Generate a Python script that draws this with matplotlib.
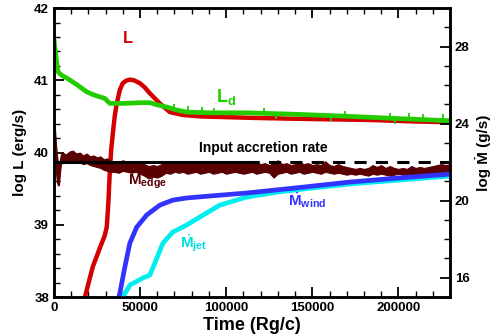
import matplotlib
matplotlib.use("Agg")
from matplotlib import pyplot as plt
from matplotlib.ticker import MultipleLocator

plt.rcParams['font.family'] = ['Liberation Sans', 'DejaVu Sans']
plt.rcParams['font.weight'] = 'bold'
plt.rcParams['mathtext.fontset'] = 'custom'
plt.rcParams['mathtext.rm'] = 'Liberation Sans:bold'
plt.rcParams['mathtext.bf'] = 'Liberation Sans:bold'
plt.rcParams['mathtext.it'] = 'Liberation Sans:bold'

# luminosity of the disc (log L, erg/s)
t_ld = [0, 600, 1700, 2300, 4500, 7500, 13300, 19100, 23000, 26700, 29500, 32500, 40000,
        50000, 55700, 60000, 65500, 71000, 77100, 90000, 112000, 140000, 172000, 200000, 230000]
ld = [41.58, 41.45, 41.24, 41.12, 41.07, 41.03, 40.94, 40.84, 40.80, 40.77, 40.75, 40.68, 40.68,
      40.69, 40.69, 40.66, 40.63, 40.59, 40.56, 40.55, 40.55, 40.53, 40.50, 40.47, 40.44]
# small spikes on L_d (base on the curve, tip)
t_spk = [70000, 78000, 86000, 93000, 122000, 129000, 161000, 169000, 195000, 198000, 206000, 214000, 226000]
spk_base = [40.6, 40.56, 40.55, 40.55, 40.54, 40.54, 40.51, 40.5, 40.47, 40.47, 40.46, 40.45, 40.44]
spk_tip = [40.67, 40.64, 40.63, 40.62, 40.62, 40.47, 40.43, 40.58, 40.55, 40.40, 40.55, 40.54, 40.53]

# total luminosity
t_l = [15000, 18000, 22600, 26700, 29500, 30700, 31600, 32500, 33300, 34200, 35300, 36500,
       38300, 40000, 42000, 44100, 46500, 49900, 52800, 55700, 61500, 67300, 74800, 85000,
       100000, 115000, 135000, 160000, 185000, 210000, 230000]
l_tot = [37.6, 38.0, 38.42, 38.68, 38.85, 38.97, 39.3, 39.75, 40.05, 40.26, 40.5, 40.68,
         40.87, 40.96, 40.995, 41.01, 41.0, 40.96, 40.9, 40.82, 40.68, 40.56, 40.52, 40.5,
         40.49, 40.48, 40.47, 40.46, 40.45, 40.43, 40.42]

# wind and jet mass loss rates (log Mdot, g/s)
t_wind = [36500, 38300, 41200, 44100, 48100, 53900, 61500, 69000, 77000, 90000, 112000,
          140000, 172000, 200000, 230000]
m_wind = [14.58, 15.21, 16.56, 17.8, 18.63, 19.26, 19.77, 20.03, 20.14, 20.24, 20.4,
          20.66, 20.97, 21.18, 21.38]
t_jet = [39500, 40000, 44100, 51700, 55700, 58600, 63300, 69000, 77100, 84700, 96300,
         106000, 112000, 130000, 150000, 172000, 200000, 230000]
m_jet = [14.84, 15.0, 15.62, 15.99, 16.14, 16.76, 17.8, 18.37, 18.74, 19.15, 19.77,
         20.03, 20.19, 20.45, 20.66, 20.87, 21.07, 21.28]

# accretion rate at the outer edge: noisy band, upper and lower edge
t_edge = [0, 580, 1160, 1740, 2320, 2900, 3480, 4060,
          5000, 7000, 9000, 11000, 13000, 15000, 17000, 19000, 21000, 23000, 25000,
          27000, 29000, 31000, 33000,
          35000, 37500, 40000, 42500, 45000, 47500, 50000, 52500, 55000, 57500,
          60000, 62500, 65000, 67500, 70000, 72500, 75000, 77500, 80000, 82500,
          85000, 87500, 90000, 92500, 95000, 97500, 100000, 102500, 105000, 107500,
          110000, 112500, 115000, 117500, 120000, 122500, 125000, 127500, 130000, 132500,
          135000, 137500, 140000, 142500, 145000, 147500, 150000, 152500, 155000, 157500,
          160000, 162500, 165000, 167500, 170000, 172500, 175000, 177500, 180000, 182500,
          185000, 187500, 190000, 192500, 195000, 197500, 200000, 202500, 205000, 207500,
          210000, 212500, 215000, 217500, 220000, 222500, 225000, 227500, 230000]
edge_hi = [24.4, 23.8, 23.0, 22.4, 22.0, 21.8, 22.1, 22.4,
           22.5, 22.4, 22.55, 22.6, 22.45, 22.5, 22.35, 22.45, 22.3, 22.35, 22.25,
           22.3, 22.15, 22.2, 22.05,
           22.05, 22.0, 22.1, 22.0, 22.05, 21.95, 22.0, 21.9, 21.8, 21.85,
           21.8, 21.9, 21.95, 22.0, 21.95, 22.05, 21.95, 22.0, 21.9, 22.0,
           21.95, 22.05, 21.95, 22.0, 21.9, 22.0, 21.95, 22.0, 21.9, 21.95,
           22.0, 21.95, 21.9, 22.0, 21.9, 21.95, 21.85, 21.95, 22.1, 21.9,
           21.95, 21.85, 21.9, 22.0, 21.9, 21.95, 21.85, 21.9, 21.85, 22.05,
           21.85, 21.8, 21.9, 21.8, 21.75, 21.7, 21.65, 21.7, 21.65, 21.7,
           21.85, 21.75, 21.85, 21.7, 21.8, 21.7, 21.65, 21.7, 21.65, 21.8,
           21.7, 21.75, 21.7, 21.75, 21.8, 21.85, 21.9, 21.85, 21.9]
edge_lo = [22.5, 22.0, 21.5, 21.0, 20.8, 20.8, 21.4, 21.9,
           22.0, 21.95, 22.05, 22.0, 21.95, 22.0, 21.9, 21.95, 21.85, 21.8, 21.75,
           21.7, 21.6, 21.55, 21.5,
           21.5, 21.45, 21.55, 21.5, 21.45, 21.5, 21.4, 21.3, 21.15, 21.25,
           21.2, 21.3, 21.45, 21.4, 21.5, 21.45, 21.5, 21.4, 21.45, 21.5,
           21.4, 21.45, 21.5, 21.4, 21.45, 21.5, 21.4, 21.45, 21.5, 21.45,
           21.4, 21.45, 21.5, 21.4, 21.45, 21.5, 21.45, 21.2, 21.4, 21.45,
           21.5, 21.4, 21.45, 21.5, 21.4, 21.45, 21.5, 21.45, 21.4, 21.5,
           21.45, 21.4, 21.45, 21.4, 21.35, 21.4, 21.35, 21.4, 21.35, 21.3,
           21.4, 21.35, 21.4, 21.35, 21.3, 21.35, 21.4, 21.35, 21.3, 21.35,
           21.4, 21.2, 21.35, 21.4, 21.45, 21.5, 21.45, 21.3, 21.5]

input_rate = 22.0

fig = plt.figure(figsize=(4.99, 3.36), dpi=100)
ax = fig.add_axes([0.108, 0.116, 0.794, 0.860])
ax2 = ax.twinx()

ax.plot(t_l, l_tot, color='#d40000', lw=3.2)
ax.plot(t_ld, ld, color='#22cc00', lw=3.4)
ax.vlines(t_spk, spk_base, spk_tip, color='#22cc00', lw=1.3)

ax2.fill_between(t_edge, edge_lo, edge_hi, color='#5a0000', lw=0.8, edgecolor='#5a0000')
ax2.plot([0, 112000], [input_rate, input_rate], color='black', lw=2.2)
ax2.plot([112000, 230000], [input_rate, input_rate], color='black', lw=2.2, dashes=(4, 3))
ax2.plot(t_jet, m_jet, color='#00eeee', lw=3.4)
ax2.plot(t_wind, m_wind, color='#3333ff', lw=3.4)

ax.set_xlim(0, 230000)
ax.set_ylim(38, 42)
ax2.set_ylim(15, 30)

ax.xaxis.set_major_locator(MultipleLocator(50000))
ax.xaxis.set_minor_locator(MultipleLocator(10000))
ax.yaxis.set_major_locator(MultipleLocator(1))
ax.yaxis.set_minor_locator(MultipleLocator(0.2))
ax2.set_yticks([16, 20, 24, 28])
ax2.yaxis.set_minor_locator(MultipleLocator(1))

ax.tick_params(axis='x', which='both', direction='in', top=True, labelsize=9.5)
ax.tick_params(axis='y', which='both', direction='in', right=False, labelsize=9.5)
ax.tick_params(which='major', length=7, width=1.3)
ax.tick_params(which='minor', length=4, width=1)
ax2.tick_params(which='both', direction='in', labelsize=9.5)
ax2.tick_params(which='major', length=7, width=1.3)
ax2.tick_params(which='minor', length=4, width=1)
for lbl in ax.get_xticklabels() + ax.get_yticklabels() + ax2.get_yticklabels():
    lbl.set_fontweight('bold')
for sp in ax.spines.values():
    sp.set_linewidth(1.8)
for sp in ax2.spines.values():
    sp.set_linewidth(1.8)

ax.set_xlabel('Time (Rg/c)', fontsize=13, fontweight='bold', labelpad=2)
ax.set_ylabel('log L (erg/s)', fontsize=11, fontweight='bold', labelpad=5)
ax2.set_ylabel('log Ṁ (g/s)', fontsize=11, fontweight='bold', labelpad=4)

ax.text(42900, 41.58, 'L', color='#d40000', fontsize=12, fontweight='bold', ha='center', va='center')
ax.text(99800, 40.77, r'$\mathbf{L_d}$', color='#22cc00', fontsize=13, ha='center', va='center')
ax.text(121800, 40.06, 'Input accretion rate', color='black', fontsize=10, fontweight='bold',
        ha='center', va='center')
ax.text(54500, 39.6, r'$\mathbf{M_{edge}}$', color='#5a0000', fontsize=11, ha='center', va='center')
ax.text(146800, 39.34, r'$\dot{\mathbf{M}}_{\mathbf{wind}}$', color='#3333ff', fontsize=11,
        ha='center', va='center')
ax.text(81200, 38.75, r'$\dot{\mathbf{M}}_{\mathbf{jet}}$', color='#00dddd', fontsize=11,
        ha='center', va='center')

fig.savefig('out.png', dpi=100)
